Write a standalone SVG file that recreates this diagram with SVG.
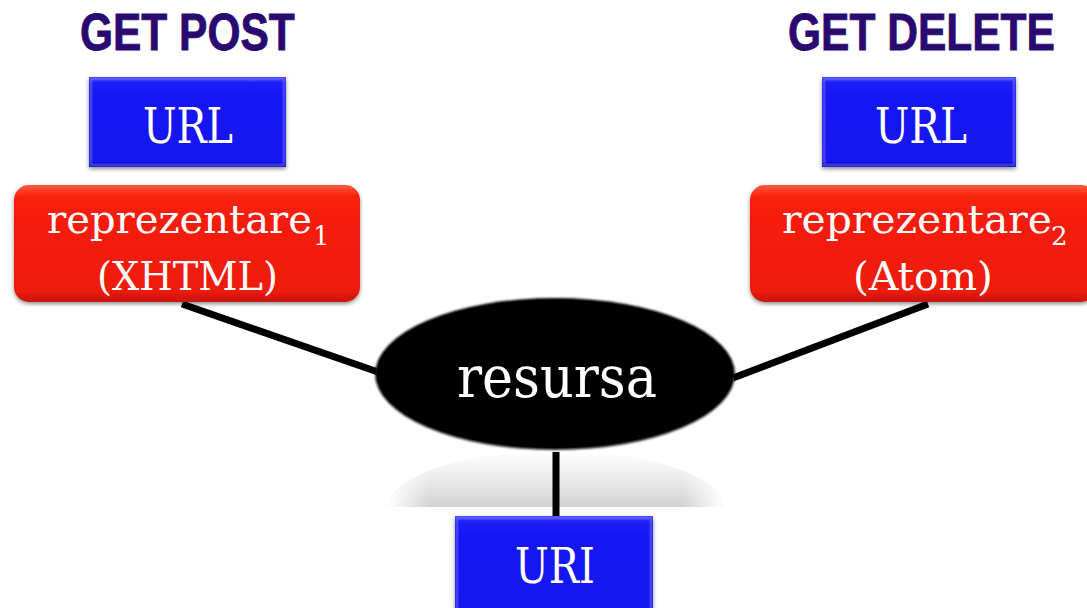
<svg xmlns="http://www.w3.org/2000/svg" width="1087" height="608" viewBox="0 0 1087 608">
  <defs>
    <linearGradient id="blueFill" x1="0" y1="0" x2="0" y2="1">
      <stop offset="0" stop-color="#3a3aff"/>
      <stop offset="0.08" stop-color="#1a1af5"/>
      <stop offset="0.92" stop-color="#1414ee"/>
      <stop offset="1" stop-color="#0c0cc8"/>
    </linearGradient>
    <linearGradient id="redFill" x1="0" y1="0" x2="0" y2="1">
      <stop offset="0" stop-color="#ff5a40"/>
      <stop offset="0.1" stop-color="#f8200a"/>
      <stop offset="0.9" stop-color="#ee1c08"/>
      <stop offset="1" stop-color="#c81408"/>
    </linearGradient>
    <radialGradient id="blackFill" cx="0.5" cy="0.45" r="0.55">
      <stop offset="0.85" stop-color="#000"/>
      <stop offset="1" stop-color="#1a1a1a"/>
    </radialGradient>
    <linearGradient id="reflectFill" x1="0" y1="0" x2="0" y2="1">
      <stop offset="0" stop-color="#ffffff"/>
      <stop offset="0.5" stop-color="#ebebeb"/>
      <stop offset="1" stop-color="#d2d2d2"/>
    </linearGradient>
    <linearGradient id="reflectEdge" x1="0" y1="0" x2="1" y2="0">
      <stop offset="0" stop-color="#fff" stop-opacity="1"/>
      <stop offset="0.12" stop-color="#fff" stop-opacity="0"/>
      <stop offset="0.88" stop-color="#fff" stop-opacity="0"/>
      <stop offset="1" stop-color="#fff" stop-opacity="1"/>
    </linearGradient>
    <filter id="shadow" x="-10%" y="-10%" width="120%" height="130%">
      <feGaussianBlur in="SourceAlpha" stdDeviation="2"/>
      <feOffset dx="0" dy="2" result="b"/>
      <feComponentTransfer><feFuncA type="linear" slope="0.45"/></feComponentTransfer>
      <feMerge><feMergeNode/><feMergeNode in="SourceGraphic"/></feMerge>
    </filter>
    <filter id="soft" x="-5%" y="-5%" width="110%" height="110%">
      <feGaussianBlur stdDeviation="1"/>
    </filter>
  </defs>
  <style>
    .verb { font-family: "Liberation Sans", Arial, sans-serif; font-weight: bold; font-size: 51px; fill: #2a0a70; stroke: #2a0a70; stroke-width: 0.8; }
    .lbl { font-family: "DejaVu Serif", "Liberation Serif", serif; fill: #ffffff; }
    .blue { fill: url(#blueFill); filter: url(#shadow); }
    .red { fill: url(#redFill); filter: url(#shadow); }
    .bevel { fill: none; stroke: #ffffff; stroke-opacity: 0.18; stroke-width: 3; }
    .link { stroke: #000; stroke-width: 7; fill: none; }
  </style>

  <rect width="1087" height="608" fill="#ffffff"/>

  <!-- method labels, condensed horizontally -->
  <text class="verb" transform="translate(80,50) scale(0.833,1)">GET POST</text>
  <text class="verb" transform="translate(788,50) scale(0.834,1)">GET DELETE</text>

  <!-- reflection under the resource -->
  <path d="M389,507 A167,56 0 0 1 723,507 Z" fill="url(#reflectFill)"/>
  <path d="M389,507 A167,56 0 0 1 723,507 Z" fill="url(#reflectEdge)"/>

  <!-- connectors -->
  <g id="connectors">
    <line class="link" x1="182" y1="304" x2="378" y2="372"/>
    <line class="link" x1="733" y1="378" x2="928" y2="304"/>
    <line class="link" x1="556" y1="452" x2="556" y2="517"/>
  </g>

  <g id="url-left">
    <rect class="blue" x="89" y="77" width="197" height="90"/>
    <rect class="bevel" x="91" y="79" width="193" height="86"/>
    <text class="lbl" x="143" y="143" font-size="48" textLength="90" lengthAdjust="spacingAndGlyphs">URL</text>
  </g>

  <g id="url-right">
    <rect class="blue" x="822" y="77" width="194" height="90"/>
    <rect class="bevel" x="824" y="79" width="190" height="86"/>
    <text class="lbl" x="875" y="143" font-size="48" textLength="92" lengthAdjust="spacingAndGlyphs">URL</text>
  </g>

  <g id="repr-1">
    <rect class="red" x="14" y="185" width="346" height="117" rx="15"/>
    <text class="lbl" x="47" y="233" font-size="39" textLength="265" lengthAdjust="spacingAndGlyphs">reprezentare</text>
    <text class="lbl" x="313" y="245" font-size="26">1</text>
    <text class="lbl" x="97" y="290" font-size="39" textLength="181" lengthAdjust="spacingAndGlyphs">(XHTML)</text>
  </g>

  <g id="repr-2">
    <rect class="red" x="750" y="185" width="346" height="117" rx="15"/>
    <text class="lbl" x="782" y="233" font-size="39" textLength="270" lengthAdjust="spacingAndGlyphs">reprezentare</text>
    <text class="lbl" x="1051" y="245" font-size="26">2</text>
    <text class="lbl" x="853" y="290" font-size="39" textLength="140" lengthAdjust="spacingAndGlyphs">(Atom)</text>
  </g>

  <g id="resource">
    <ellipse cx="555" cy="374" rx="180" ry="76" fill="url(#blackFill)" filter="url(#soft)"/>
    <ellipse cx="555" cy="374" rx="178" ry="74" fill="#000"/>
    <text class="lbl" x="457" y="397" font-size="58" textLength="200" lengthAdjust="spacingAndGlyphs">resursa</text>
  </g>

  <g id="uri">
    <rect class="blue" x="455" y="516" width="198" height="100"/>
    <rect class="bevel" x="457" y="518" width="194" height="96"/>
    <text class="lbl" x="515" y="583" font-size="48" textLength="80" lengthAdjust="spacingAndGlyphs">URI</text>
  </g>
</svg>
